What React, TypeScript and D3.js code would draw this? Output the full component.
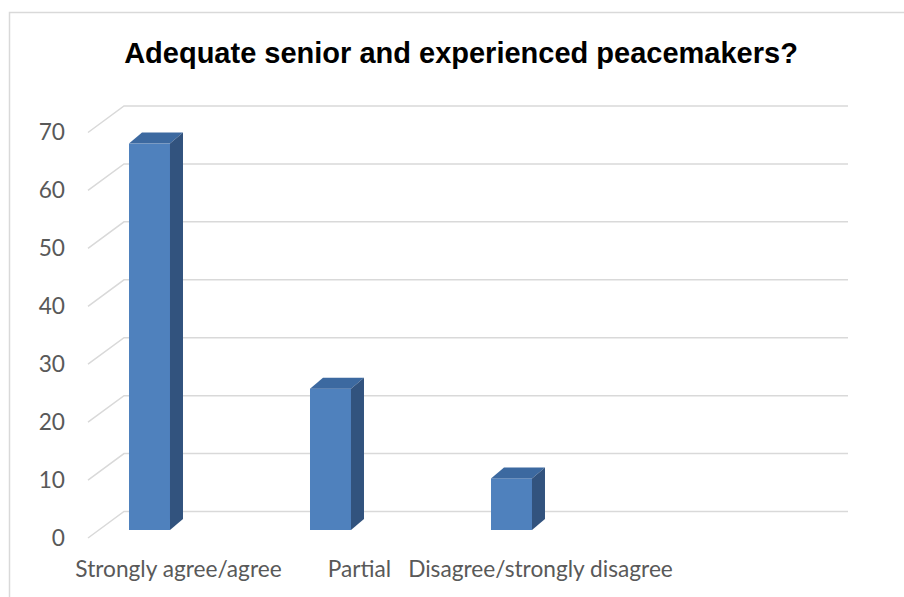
import React from "react";
import * as d3 from "d3";

const categories = ["Strongly agree/agree", "Partial", "Disagree/strongly disagree", ""];
const values = [66.7, 24.4, 8.9];
const yTicks = [0, 10, 20, 30, 40, 50, 60, 70];
const title = "Adequate senior and experienced peacemakers?";

const W = 904;
const H = 597;

// 3D geometry of the plot box
const floorFrontY = 538;
const frontLeftX = 88;
const wallDX = 36;
const wallDY = 26.5;
const barBaseY = 530;
const barDX = 13;
const barDY = 11;

export default function App() {
  const x = d3.scaleBand<string>().domain(categories).range([frontLeftX, frontLeftX + 724]).paddingInner(0).paddingOuter(0);
  const yGrid = d3.scaleLinear().domain([0, 70]).range([floorFrontY, 132.5]);
  const k = (floorFrontY - 132.5) / 70;
  const yBar = d3.scaleLinear().domain([0, 70]).range([barBaseY, barBaseY - 70 * k]);
  const bw = x.bandwidth();
  const barW = bw * 0.2265;
  const barOff = bw * 0.2265;
  const backRight = frontLeftX + wallDX + 724;

  return (
    <svg width={W} height={H} style={{ position: "absolute", left: 0, top: 0, background: "#fff" }}>
      <rect x={0} y={0} width={W} height={H} fill="#fff" />
      <rect x={9.5} y={12.5} width={W + 10} height={H + 10} fill="none" stroke="#d9d9d9" strokeWidth={1.5} />
      <text x={461} y={63} textAnchor="middle" fontFamily="'Liberation Sans', Arial, sans-serif" fontWeight="bold" fontSize={29} fill="#000">
        {title}
      </text>
      <g fill="none" stroke="#d9d9d9" strokeWidth={1.5}>
        {yTicks.map((t) => {
          const yf = yGrid(t);
          const yb = yf - wallDY;
          return (
            <polyline key={t} points={`${frontLeftX},${yf} ${frontLeftX + wallDX},${yb} ${backRight},${yb}`} />
          );
        })}
      </g>
      <g fontFamily="Lato, 'Open Sans', sans-serif" fontSize={22.7} fill="#595959">
        {yTicks.map((t) => (
          <text key={t} x={65} y={yGrid(t)} dy="0.35em" textAnchor="end">
            {t}
          </text>
        ))}
        {categories.map((c) =>
          c ? (
            <text key={c} x={(x(c) as number) + bw / 2} y={577} textAnchor="middle">
              {c}
            </text>
          ) : null
        )}
      </g>
      <g>
        {values.map((v, i) => {
          const x0 = (x(categories[i]) as number) + barOff;
          const yt = yBar(v);
          const yb = yBar(0);
          return (
            <g key={i}>
              <rect x={x0} y={yt} width={barW} height={yb - yt} fill="#4f81bd" />
              <polygon
                points={`${x0},${yt} ${x0 + barDX},${yt - barDY} ${x0 + barW + barDX},${yt - barDY} ${x0 + barW},${yt}`}
                fill="#3c69a0"
              />
              <polygon
                points={`${x0 + barW},${yt} ${x0 + barW + barDX},${yt - barDY} ${x0 + barW + barDX},${yb - barDY} ${x0 + barW},${yb}`}
                fill="#32537e"
              />
            </g>
          );
        })}
      </g>
    </svg>
  );
}
